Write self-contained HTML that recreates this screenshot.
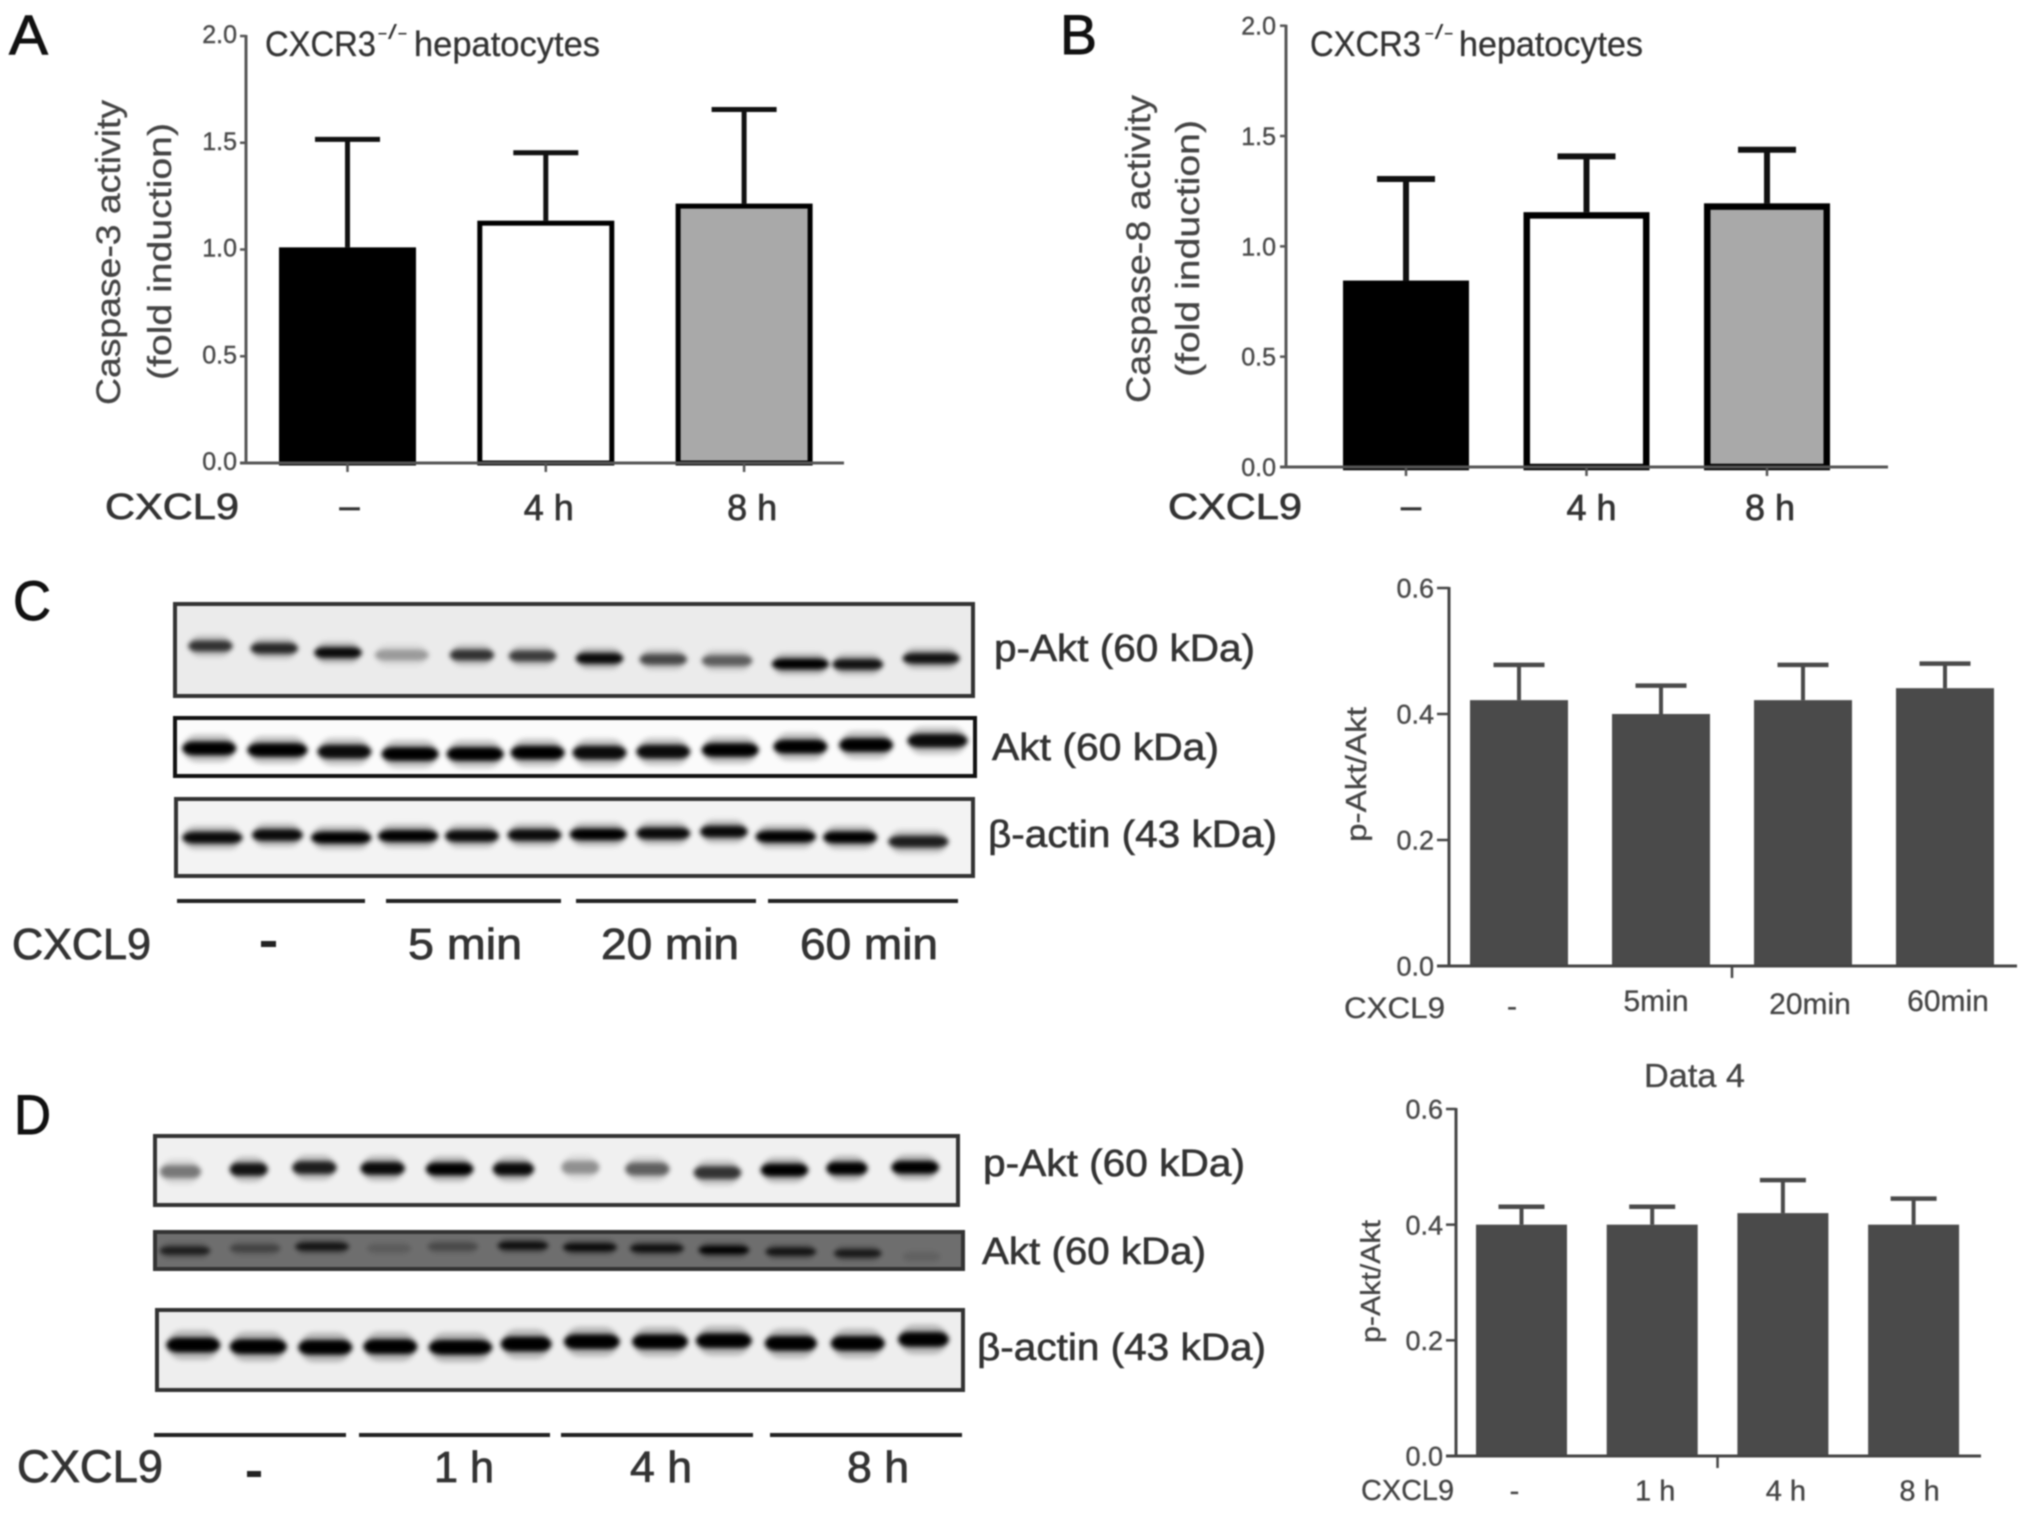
<!DOCTYPE html>
<html lang="en">
<head>
<meta charset="utf-8">
<title>CXCL9 caspase activity and Akt phosphorylation in CXCR3-/- hepatocytes</title>
<style>
html,body{margin:0;padding:0;background:#fff;width:2031px;height:1513px;overflow:hidden}
#figure{display:block;filter:blur(.7px)}
text{font-family:"Liberation Sans",sans-serif}
</style>
</head>
<body>
<svg id="figure" xmlns="http://www.w3.org/2000/svg" width="2031" height="1513" viewBox="0 0 2031 1513">
  <defs>
    <filter id="soft" x="-20%" y="-80%" width="140%" height="260%"><feGaussianBlur stdDeviation="2.5"/></filter>
  </defs>

  <g fill="#111" stroke="#111" stroke-width=".9" font-size="56">
    <text x="9" y="54" textLength="39" lengthAdjust="spacingAndGlyphs">A</text>
    <text x="1060" y="54" textLength="37" lengthAdjust="spacingAndGlyphs">B</text>
    <text x="13" y="620" textLength="38" lengthAdjust="spacingAndGlyphs">C</text>
    <text x="14" y="1134" textLength="37" lengthAdjust="spacingAndGlyphs">D</text>
  </g>

  <g fill="#333">
    <text x="265" y="56" font-size="35" stroke="#333" stroke-width=".3" textLength="111" lengthAdjust="spacingAndGlyphs">CXCR3</text>
    <text x="377" y="39" font-size="20" textLength="31" lengthAdjust="spacingAndGlyphs">-/-</text>
    <text x="414" y="56" font-size="35" stroke="#333" stroke-width=".3" textLength="186" lengthAdjust="spacingAndGlyphs">hepatocytes</text>
    <text transform="translate(120,405) rotate(-90)" font-size="34" fill="#444" stroke="#444" stroke-width=".3" textLength="305" lengthAdjust="spacingAndGlyphs">Caspase-3 activity</text>
    <text transform="translate(171,380) rotate(-90)" font-size="33" fill="#444" stroke="#444" stroke-width=".3" textLength="257" lengthAdjust="spacingAndGlyphs">(fold induction)</text>
    <text x="105" y="519" font-size="36" stroke="#333" stroke-width=".7" textLength="134" lengthAdjust="spacingAndGlyphs">CXCL9</text>
  </g>

  <g fill="#333">
    <text x="1310" y="56" font-size="35" stroke="#333" stroke-width=".3" textLength="111" lengthAdjust="spacingAndGlyphs">CXCR3</text>
    <text x="1424" y="39" font-size="20" textLength="30" lengthAdjust="spacingAndGlyphs">-/-</text>
    <text x="1459" y="56" font-size="35" stroke="#333" stroke-width=".3" textLength="184" lengthAdjust="spacingAndGlyphs">hepatocytes</text>
    <text transform="translate(1150,403) rotate(-90)" font-size="34" fill="#444" stroke="#444" stroke-width=".3" textLength="308" lengthAdjust="spacingAndGlyphs">Caspase-8 activity</text>
    <text transform="translate(1199,377) rotate(-90)" font-size="33" fill="#444" stroke="#444" stroke-width=".3" textLength="257" lengthAdjust="spacingAndGlyphs">(fold induction)</text>
    <text x="1168" y="519" font-size="36" stroke="#333" stroke-width=".7" textLength="134" lengthAdjust="spacingAndGlyphs">CXCL9</text>
  </g>

  <g fill="#333">
    <text x="994" y="661" font-size="38" stroke="#333" stroke-width=".6" textLength="261" lengthAdjust="spacingAndGlyphs">p-Akt (60 kDa)</text>
    <text x="992" y="760" font-size="38" stroke="#333" stroke-width=".6" textLength="227" lengthAdjust="spacingAndGlyphs">Akt (60 kDa)</text>
    <text x="988" y="847" font-size="38" stroke="#333" stroke-width=".6" textLength="289" lengthAdjust="spacingAndGlyphs">β-actin (43 kDa)</text>
    <rect x="177" y="899" width="188" height="4" fill="#222"/>
    <rect x="386" y="899" width="175" height="4" fill="#222"/>
    <rect x="576" y="899" width="180" height="4" fill="#222"/>
    <rect x="768" y="899" width="190" height="4" fill="#222"/>
    <text x="12" y="959" font-size="44" stroke="#333" stroke-width=".8" textLength="139" lengthAdjust="spacingAndGlyphs">CXCL9</text>
    <rect x="261" y="941" width="15" height="6" fill="#222"/>
    <text x="408" y="959" font-size="44" stroke="#333" stroke-width=".8" textLength="114" lengthAdjust="spacingAndGlyphs">5 min</text>
    <text x="601" y="959" font-size="44" stroke="#333" stroke-width=".8" textLength="138" lengthAdjust="spacingAndGlyphs">20 min</text>
    <text x="800" y="959" font-size="44" stroke="#333" stroke-width=".8" textLength="138" lengthAdjust="spacingAndGlyphs">60 min</text>
    <text x="1344" y="1018" font-size="30" fill="#444" stroke="#444" stroke-width=".3" textLength="101" lengthAdjust="spacingAndGlyphs">CXCL9</text>
    <text transform="translate(1366,842) rotate(-90)" font-size="29" fill="#444" stroke="#444" stroke-width=".3" textLength="135" lengthAdjust="spacingAndGlyphs">p-Akt/Akt</text>
  </g>

  <g fill="#333">
    <text x="983" y="1176" font-size="38" stroke="#333" stroke-width=".6" textLength="262" lengthAdjust="spacingAndGlyphs">p-Akt (60 kDa)</text>
    <text x="982" y="1264" font-size="38" stroke="#333" stroke-width=".6" textLength="224" lengthAdjust="spacingAndGlyphs">Akt (60 kDa)</text>
    <text x="977" y="1360" font-size="38" stroke="#333" stroke-width=".6" textLength="289" lengthAdjust="spacingAndGlyphs">β-actin (43 kDa)</text>
    <rect x="154" y="1433" width="192" height="4" fill="#222"/>
    <rect x="359" y="1433" width="191" height="4" fill="#222"/>
    <rect x="561" y="1433" width="192" height="4" fill="#222"/>
    <rect x="770" y="1433" width="192" height="4" fill="#222"/>
    <text x="17" y="1482" font-size="45" stroke="#333" stroke-width=".8" textLength="146" lengthAdjust="spacingAndGlyphs">CXCL9</text>
    <rect x="247" y="1471" width="14" height="6" fill="#222"/>
    <text x="434" y="1482" font-size="44" stroke="#333" stroke-width=".8" textLength="60" lengthAdjust="spacingAndGlyphs">1 h</text>
    <text x="630" y="1482" font-size="44" stroke="#333" stroke-width=".8" textLength="62" lengthAdjust="spacingAndGlyphs">4 h</text>
    <text x="847" y="1482" font-size="44" stroke="#333" stroke-width=".8" textLength="62" lengthAdjust="spacingAndGlyphs">8 h</text>
    <text x="1644" y="1087" font-size="33" fill="#444" stroke="#444" stroke-width=".3" textLength="101" lengthAdjust="spacingAndGlyphs">Data 4</text>
    <text x="1361" y="1500" font-size="29" fill="#444" stroke="#444" stroke-width=".3" textLength="93" lengthAdjust="spacingAndGlyphs">CXCL9</text>
    <text transform="translate(1380,1343) rotate(-90)" font-size="28" fill="#444" stroke="#444" stroke-width=".3" textLength="123" lengthAdjust="spacingAndGlyphs">p-Akt/Akt</text>
  </g>

  <g id="blots"></g>
  <g id="charts"></g>
</svg>

<script>
// Chart values
const caspase3Categories = ['–', '4 h', '8 h'];
const caspase3Means = [1.01, 1.135, 1.215];
const caspase3Upper = [1.516, 1.453, 1.656];
const caspase3Ticks = ['0.0', '0.5', '1.0', '1.5', '2.0'];

const caspase8Categories = ['–', '4 h', '8 h'];
const caspase8Means = [0.845, 1.155, 1.195];
const caspase8Upper = [1.305, 1.408, 1.438];
const caspase8Ticks = ['0.0', '0.5', '1.0', '1.5', '2.0'];

const aktMinutesCategories = ['-', '5min', '20min', '60min'];
const aktMinutesMeans = [0.422, 0.40, 0.422, 0.441];
const aktMinutesUpper = [0.478, 0.445, 0.478, 0.48];
const aktMinutesTicks = ['0.0', '0.2', '0.4', '0.6'];

const aktHoursCategories = ['-', '1 h', '4 h', '8 h'];
const aktHoursMeans = [0.40, 0.40, 0.42, 0.40];
const aktHoursUpper = [0.431, 0.431, 0.477, 0.445];
const aktHoursTicks = ['0.0', '0.2', '0.4', '0.6'];

const NS = 'http://www.w3.org/2000/svg';

function mk(parent, tag, attrs, name) {
  const el = document.createElementNS(NS, tag);
  for (const k in attrs) el.setAttribute(k, attrs[k]);
  
  
  parent.appendChild(el);
  return el;
}

function drawChart(id, categories, means, upper, ticks, geo) {
  const root = document.getElementById('charts');
  const g = mk(root, 'g', {}, id + '-chart');
  const yMax = parseFloat(ticks[ticks.length - 1]);
  const yScale = v => geo.y0 + (geo.yTop - geo.y0) * v / yMax;
  const xScale = i => geo.firstCenter + i * geo.step;

  // bars
  means.forEach((v, i) => {
    const cx = xScale(i), top = yScale(v);
    const sw = geo.barStroke;
    const fill = geo.fills[i % geo.fills.length];
    const err = geo.errColor;
    mk(g, 'line', {x1: cx, x2: cx, y1: top, y2: yScale(upper[i]), stroke: err, 'stroke-width': geo.errW}, id + '-error-stem-' + i);
    mk(g, 'line', {x1: cx - geo.capW / 2, x2: cx + geo.capW / 2, y1: yScale(upper[i]), y2: yScale(upper[i]), stroke: err, 'stroke-width': geo.capT}, id + '-error-cap-' + i);
    mk(g, 'rect', {
      x: cx - geo.barW / 2 + sw / 2, y: top + sw / 2,
      width: geo.barW - sw, height: geo.y0 - top - sw / 2,
      fill: fill, stroke: sw ? '#000' : 'none', 'stroke-width': sw
    }, id + '-bar-' + i);
  });

  // axes
  mk(g, 'line', {x1: geo.left, x2: geo.left, y1: geo.yTop - 1, y2: geo.y0 + 1, stroke: geo.axisColor, 'stroke-width': geo.axisW}, id + '-y-axis');
  mk(g, 'line', {x1: geo.left - geo.tickLen, x2: geo.right, y1: geo.y0, y2: geo.y0, stroke: geo.axisColor, 'stroke-width': geo.axisW}, id + '-x-axis');

  // y ticks and labels
  ticks.forEach(t => {
    const y = yScale(parseFloat(t));
    mk(g, 'line', {x1: geo.left - geo.tickLen, x2: geo.left, y1: y, y2: y, stroke: geo.axisColor, 'stroke-width': geo.axisW - .5}, id + '-y-tick-' + t);
    const lab = mk(g, 'text', {
      x: geo.left - geo.tickLen - geo.tickGap, y: y + geo.tickFont * .36 + geo.tickLabelDy,
      'text-anchor': 'end', 'font-size': geo.tickFont, fill: '#4a4a4a', stroke: '#4a4a4a', 'stroke-width': .4
    }, id + '-y-tick-label-' + t);
    lab.textContent = t;
  });

  // x ticks
  if (geo.singleXTick) {
    const cx = (xScale(1) + xScale(2)) / 2;
    mk(g, 'line', {x1: cx, x2: cx, y1: geo.y0, y2: geo.y0 + geo.xTickLen, stroke: geo.axisColor, 'stroke-width': geo.axisW - .5}, id + '-x-tick');
  } else {
    categories.forEach((c, i) => {
      mk(g, 'line', {x1: xScale(i), x2: xScale(i), y1: geo.y0, y2: geo.y0 + geo.xTickLen, stroke: geo.axisColor, 'stroke-width': geo.axisW - .5}, id + '-x-tick-' + i);
    });
  }

  // x category labels
  categories.forEach((c, i) => {
    const lab = mk(g, 'text', {
      x: xScale(i) + geo.labelNudgeX[i], y: geo.labelY + geo.labelNudgeY[i] + geo.labelFont * .36,
      'text-anchor': 'middle', 'font-size': geo.labelFont, fill: geo.labelColor,
      stroke: geo.labelColor, 'stroke-width': geo.labelStroke
    }, id + '-x-label-' + i);
    lab.textContent = c;
  });
}

drawChart('caspase-3', caspase3Categories, caspase3Means, caspase3Upper, caspase3Ticks, {
  left: 246, right: 844, yTop: 36, y0: 463, firstCenter: 347.5, step: 198.3,
  barW: 137, barStroke: 5, fills: ['#000', '#fff', '#a9a9a9'], errColor: '#111', errW: 5, capW: 65, capT: 5,
  axisColor: '#555', axisW: 3, tickLen: 6, tickGap: 3, tickFont: 25, tickLabelDy: -2, xTickLen: 9,
  labelNudgeX: [2, 3, 8], labelNudgeY: [-2, 0, 0], labelY: 507, labelFont: 36, labelColor: '#333', labelStroke: .7
});
drawChart('caspase-8', caspase8Categories, caspase8Means, caspase8Upper, caspase8Ticks, {
  left: 1286, right: 1888, yTop: 25.7, y0: 467, firstCenter: 1406, step: 180.5,
  barW: 126, barStroke: 6.5, fills: ['#000', '#fff', '#a9a9a9'], errColor: '#111', errW: 6, capW: 58, capT: 6,
  axisColor: '#555', axisW: 3, tickLen: 6, tickGap: 4, tickFont: 25, tickLabelDy: 0, xTickLen: 9,
  labelNudgeX: [5, 5, 3], labelNudgeY: [-2, 0, 0], labelY: 507, labelFont: 36, labelColor: '#333', labelStroke: .7
});
drawChart('akt-minutes', aktMinutesCategories, aktMinutesMeans, aktMinutesUpper, aktMinutesTicks, {
  left: 1449, right: 2017, yTop: 588, y0: 966, firstCenter: 1519, step: 142,
  barW: 98, barStroke: 0, fills: ['#4a4a4a'], errColor: '#4a4a4a', errW: 4, capW: 51, capT: 4.5,
  axisColor: '#444', axisW: 3, tickLen: 12, tickGap: 3, tickFont: 27, tickLabelDy: 0, xTickLen: 12, singleXTick: true,
  labelNudgeX: [-7, -5, 7, 3], labelNudgeY: [1, -4, -1, -4], labelY: 1004, labelFont: 30, labelColor: '#444', labelStroke: .3
});
drawChart('akt-hours', aktHoursCategories, aktHoursMeans, aktHoursUpper, aktHoursTicks, {
  left: 1456, right: 1981, yTop: 1109, y0: 1456, firstCenter: 1521.5, step: 130.7,
  barW: 91, barStroke: 0, fills: ['#4a4a4a'], errColor: '#4a4a4a', errW: 4, capW: 46, capT: 4.5,
  axisColor: '#444', axisW: 3, tickLen: 10, tickGap: 3, tickFont: 27, tickLabelDy: 0, xTickLen: 12, singleXTick: true,
  labelNudgeX: [-7, 3, 3, 6], labelNudgeY: [0, 0, 0, 0], labelY: 1490, labelFont: 29, labelColor: '#444', labelStroke: .3
});
</script>

<script>
// Western-blot photographs redrawn as soft bands. Not chart data.
// Each band: [centre, width, row, darkness] measured on a 1.568x / 3x enlarged view of the blot area.
const blotBandsC1 = [[330,70,228,.75],[430,75,235,.8],[530,75,248,.95],[630,85,255,.3],[740,70,255,.75],[835,75,258,.7],[940,75,265,.95],[1040,75,268,.65],[1140,80,272,.55],[1255,90,282,1],[1345,80,283,.9],[1460,90,265,.9]];
const blotBandsC2 = [[328,85,535,1],[435,95,540,1],[540,85,545,.95],[643,90,552,1],[745,90,552,1],[843,85,548,1],[940,85,548,.95],[1040,85,545,.95],[1145,90,540,1],[1255,85,530,1],[1358,85,525,1],[1470,95,512,.95]];
const blotBandsC3 = [[333,95,803,.95],[435,80,795,.95],[535,95,803,1],[640,95,798,1],[740,85,798,.95],[838,85,795,.95],[938,90,793,1],[1040,85,790,.95],[1135,75,785,.95],[1232,95,800,1],[1333,85,802,1],[1440,95,815,.85]];
const blotBandsD1 = [[283,65,305,.45],[390,60,298,.9],[493,70,293,.85],[600,70,295,.95],[705,75,297,1],[805,65,297,.95],[910,60,292,.35],[1015,70,297,.55],[1125,75,308,.75],[1230,75,300,1],[1328,65,295,1],[1435,75,292,1]];
const blotBandsD2 = [[290,80,542,.7],[400,80,535,.35],[505,85,530,.8],[610,70,535,.15],[710,80,530,.3],[820,80,527,.85],[925,85,532,.9],[1030,85,535,.85],[1135,80,540,1],[1240,80,545,.8],[1345,75,550,.75],[1445,60,560,.1]];
const blotBandsD3 = [[303,85,825,1],[405,90,830,1],[510,85,832,1],[612,85,830,1],[722,100,832,1],[825,80,822,1],[928,88,815,1],[1035,88,815,1],[1135,88,812,1],[1240,82,820,1],[1345,85,820,1],[1448,80,808,1]];

function drawBlot(name, frame, bands, rowOrigin, bandH, bg, frameW, frameColor) {
  const root = document.getElementById('blots');
  const g = document.createElementNS('http://www.w3.org/2000/svg', 'g');
  
  
  root.appendChild(g);

  const back = document.createElementNS('http://www.w3.org/2000/svg', 'rect');
  back.setAttribute('x', frame[0]);
  back.setAttribute('y', frame[1]);
  back.setAttribute('width', frame[2]);
  back.setAttribute('height', frame[3]);
  back.setAttribute('fill', bg);
  
  
  g.appendChild(back);

  const bandLayer = document.createElementNS('http://www.w3.org/2000/svg', 'g');
  bandLayer.setAttribute('filter', 'url(#soft)');
  
  
  g.appendChild(bandLayer);

  bands.forEach((b, i) => {
    const w = b[1] / 1.568, cx = b[0] / 1.568, cy = rowOrigin + b[2] / 3;
    const halo = document.createElementNS('http://www.w3.org/2000/svg', 'rect');
    halo.setAttribute('x', cx - w / 2 + 1);
    halo.setAttribute('y', cy - bandH);
    halo.setAttribute('width', w - 2);
    halo.setAttribute('height', bandH * 2);
    halo.setAttribute('rx', bandH);
    halo.setAttribute('fill', '#000');
    halo.setAttribute('opacity', b[3] * .22);
    
    
    bandLayer.appendChild(halo);

    const r = document.createElementNS('http://www.w3.org/2000/svg', 'rect');
    r.setAttribute('x', cx - w / 2);
    r.setAttribute('y', cy - bandH / 2);
    r.setAttribute('width', w);
    r.setAttribute('height', bandH);
    r.setAttribute('rx', w * .22);
    r.setAttribute('ry', bandH / 2);
    r.setAttribute('fill', '#000');
    r.setAttribute('opacity', b[3]);
    
    
    bandLayer.appendChild(r);
  });

  const border = document.createElementNS('http://www.w3.org/2000/svg', 'rect');
  border.setAttribute('x', frame[0]);
  border.setAttribute('y', frame[1]);
  border.setAttribute('width', frame[2]);
  border.setAttribute('height', frame[3]);
  border.setAttribute('fill', 'none');
  border.setAttribute('stroke', frameColor);
  border.setAttribute('stroke-width', frameW);
  
  
  g.appendChild(border);
}

drawBlot('blot-c-p-akt', [175, 604, 798, 92], blotBandsC1, 570, 11, '#ebebeb', 4, '#333');
drawBlot('blot-c-akt', [175, 718, 800, 58], blotBandsC2, 570, 14, '#fbfbfb', 4, '#111');
drawBlot('blot-c-beta-actin', [176, 799, 797, 77], blotBandsC3, 570, 12, '#f3f3f3', 4, '#333');
drawBlot('blot-d-p-akt', [155, 1136, 803, 69], blotBandsD1, 1070, 13, '#f0f0f0', 4, '#333');
drawBlot('blot-d-akt', [155, 1232, 808, 37], blotBandsD2, 1070, 8, '#6e6e6e', 4, '#333');
drawBlot('blot-d-beta-actin', [157, 1310, 806, 80], blotBandsD3, 1070, 15, '#eeeeee', 4, '#333');
</script>
</body>
</html>
